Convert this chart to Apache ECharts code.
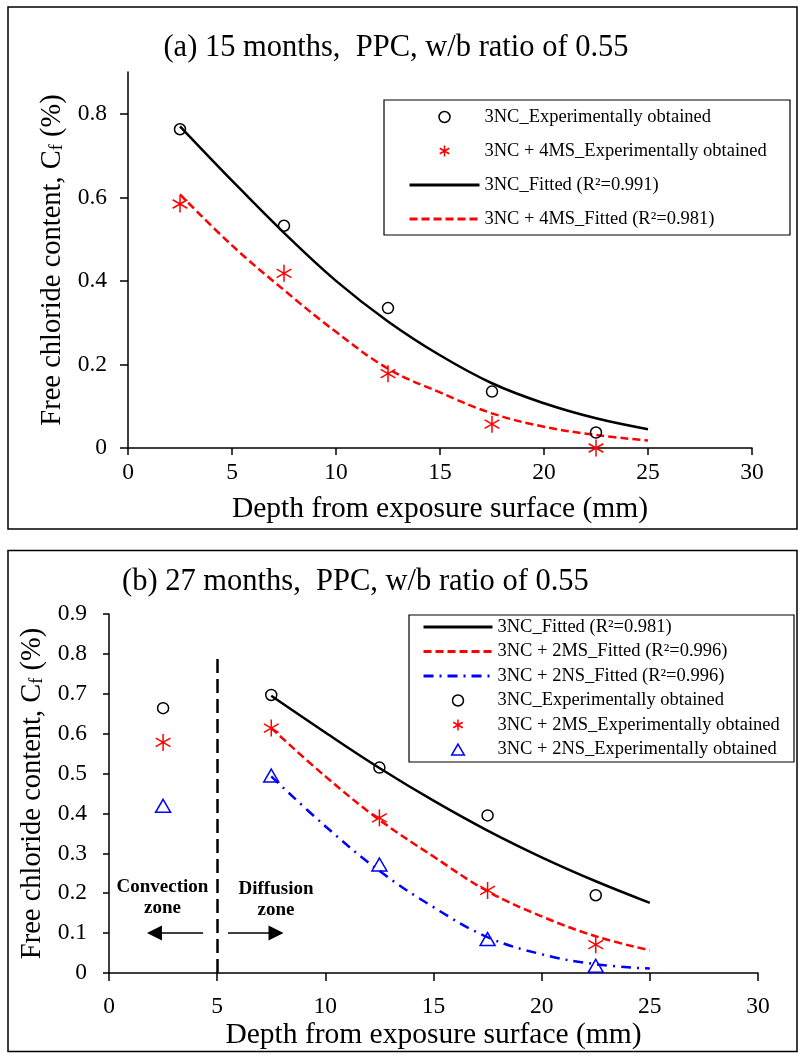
<!DOCTYPE html>
<html>
<head>
<meta charset="utf-8">
<script src="https://cdn.jsdelivr.net/npm/echarts@6/dist/echarts.min.js"></script>
<style>
  html, body { margin: 0; padding: 0; background: #fff; }
  #chart { width: 798px; height: 1055px; }
</style>
</head>
<body>
<div id="chart"></div>
<script>
// ---- data (a) 15 months ----
var aDepthExp = [2.5, 7.5, 12.5, 17.5, 22.5];
var aNcExp = [0.763, 0.532, 0.335, 0.135, 0.037];
var aMsExp = [0.584, 0.418, 0.178, 0.057, 0.0];
var aDepthFit = [2.5, 5, 7.5, 10, 12.5, 15, 17.5, 20, 22.5, 25];
var aNcFit = [0.77, 0.64, 0.515, 0.40, 0.303, 0.222, 0.155, 0.107, 0.071, 0.045];
var aMsFit = [0.607, 0.485, 0.378, 0.278, 0.19, 0.133, 0.083, 0.051, 0.031, 0.018];
var aYTicks = [0, 0.2, 0.4, 0.6, 0.8];

// ---- data (b) 27 months ----
var bDepthExp = [2.5, 7.5, 12.5, 17.5, 22.5];
var bNcExp = [0.664, 0.697, 0.515, 0.395, 0.195];
var bMsExp = [0.578, 0.614, 0.389, 0.207, 0.071];
var bNsExp = [0.419, 0.495, 0.272, 0.085, 0.018];
var bDepthFit = [7.5, 10, 12.5, 15, 17.5, 20, 22.5, 25];
var bNcFit = [0.695, 0.603, 0.514, 0.432, 0.357, 0.29, 0.23, 0.176];
var bMsFit = [0.614, 0.493, 0.384, 0.292, 0.205, 0.142, 0.092, 0.057];
var bNsFit = [0.493, 0.368, 0.256, 0.165, 0.09, 0.047, 0.022, 0.011];

var A_NC_EXP = '3NC_Experimentally obtained';
var A_MS_EXP = '3NC + 4MS_Experimentally obtained';
var A_NC_FIT = '3NC_Fitted (R²=0.991)';
var A_MS_FIT = '3NC + 4MS_Fitted (R²=0.981)';
var B_NC_FIT = '3NC_Fitted (R²=0.981)';
var B_MS_FIT = '3NC + 2MS_Fitted (R²=0.996)';
var B_NS_FIT = '3NC + 2NS_Fitted (R²=0.996)';
var B_NC_EXP = '3NC_Experimentally obtained';
var B_MS_EXP = '3NC + 2MS_Experimentally obtained';
var B_NS_EXP = '3NC + 2NS_Experimentally obtained';

var FONT = '"Liberation Serif", "Times New Roman", serif';
var STAR = 'path://M5,0 L5,10 M0.67,2.5 L9.33,7.5 M0.67,7.5 L9.33,2.5';
var TRI = 'path://M5,0 L10,8.66 L0,8.66 Z';
var CLEAR = 'rgba(0,0,0,0)';

function pairs(xs, ys) {
    return xs.map(function (x, i) { return [x, ys[i]]; });
}

function xAxis(idx, margin, tickLen) {
    return {
        type: 'value', gridIndex: idx, min: 0, max: 30, interval: 5,
        name: 'Depth from exposure surface (mm)', nameLocation: 'middle', nameGap: 46,
        nameTextStyle: { fontFamily: FONT, fontSize: 29.5, color: '#000' },
        axisLine: { onZero: false, lineStyle: { color: '#000', width: 1.5 } },
        axisTick: { length: tickLen, lineStyle: { color: '#000', width: 1.5 } },
        axisLabel: { margin: margin, fontFamily: FONT, fontSize: 23.5, color: '#000' },
        splitLine: { show: false }
    };
}

function yAxis(idx, extra) {
    var ax = {
        type: 'value', gridIndex: idx, min: 0, max: 0.9,
        name: 'Free chloride content, C{sub|f} (%)', nameLocation: 'middle', nameGap: 55,
        nameTextStyle: {
            fontFamily: FONT, fontSize: 28.5, color: '#000',
            rich: { sub: { fontFamily: FONT, fontSize: 18, color: '#000', verticalAlign: 'bottom', padding: [10, 0, 0, 0] } }
        },
        axisLine: { show: true, lineStyle: { color: '#000', width: 1.5 } },
        axisTick: { show: true, length: 7, lineStyle: { color: '#000', width: 1.5 } },
        axisLabel: { margin: 21, fontFamily: FONT, fontSize: 23.5, color: '#000' },
        splitLine: { show: false }
    };
    return echarts.util.merge(ax, extra, true);
}

function expSeries(name, grid, xs, ys, symbol, size, color) {
    return {
        name: name, type: 'scatter', xAxisIndex: grid, yAxisIndex: grid,
        data: pairs(xs, ys), symbol: symbol, symbolSize: size, symbolKeepAspect: true, z: 5,
        itemStyle: { color: CLEAR, borderColor: color, borderWidth: 1.5, opacity: 1 },
        emphasis: { disabled: true }
    };
}

function fitSeries(name, grid, xs, ys, color, type) {
    return {
        name: name, type: 'line', xAxisIndex: grid, yAxisIndex: grid,
        data: pairs(xs, ys), smooth: 0.4, symbol: 'none', z: 3,
        itemStyle: { color: color },
        lineStyle: { color: color, width: 2.5, type: type },
        emphasis: { disabled: true }
    };
}

var symItem = { borderWidth: 1.5 };
var lineItem = { color: CLEAR, borderWidth: 0 };

var legendText = { fontFamily: FONT, fontSize: 18.5, lineHeight: 20, color: '#000' };

var chart = echarts.init(document.getElementById('chart'), null, { renderer: 'canvas' });

var bNcExpSeries = expSeries(B_NC_EXP, 1, bDepthExp, bNcExp, 'circle', 11, '#000');
bNcExpSeries.markLine = {
    silent: true, animation: false,
    symbol: ['none', 'triangle'], symbolSize: [15, 15],
    label: { show: false },
    lineStyle: { color: '#000', width: 1.5, type: 'solid' },
    data: [
        [{ coord: [5, 0], symbol: 'none', lineStyle: { type: [14, 6], width: 2.5 } }, { coord: [5, 0.8], symbol: 'none' }],
        [{ coord: [4.35, 0.1] }, { coord: [2.1, 0.1] }],
        [{ coord: [5.5, 0.1] }, { coord: [7.72, 0.1] }]
    ]
};
bNcExpSeries.markPoint = {
    silent: true, animation: false,
    symbol: 'rect', symbolSize: 1, itemStyle: { color: CLEAR },
    label: { show: true, position: 'inside', fontFamily: FONT, fontSize: 19, fontWeight: 'bold', color: '#000', lineHeight: 20.5 },
    data: [
        { name: 'conv', coord: [2.47, 0.189], label: { formatter: 'Convection\nzone' } },
        { name: 'diff', coord: [7.72, 0.184], label: { formatter: 'Diffusion\nzone' } }
    ]
};

chart.setOption({
    animation: false,
    backgroundColor: '#fff',
    title: [
        { text: '(a) 15 months,  PPC, w/b ratio of 0.55', left: 396, top: 32, textAlign: 'center', padding: 0,
          textStyle: { fontFamily: FONT, fontSize: 30.5, fontWeight: 'normal', color: '#000' } },
        { text: '(b) 27 months,  PPC, w/b ratio of 0.55', left: 122, top: 566, padding: 0,
          textStyle: { fontFamily: FONT, fontSize: 30.5, fontWeight: 'normal', color: '#000' } }
    ],
    graphic: [
        { type: 'rect', shape: { x: 8, y: 7, width: 789, height: 522 }, style: { fill: 'none', stroke: '#000', lineWidth: 1.5 }, silent: true, z: -1 },
        { type: 'rect', shape: { x: 8, y: 550.5, width: 789, height: 501 }, style: { fill: 'none', stroke: '#000', lineWidth: 1.5 }, silent: true, z: -1 },
        { type: 'rect', shape: { x: 384, y: 100, width: 406, height: 135 }, style: { fill: '#fff', stroke: '#000', lineWidth: 1.2 }, silent: true, z: 1 },
        { type: 'rect', shape: { x: 409, y: 615, width: 385, height: 147 }, style: { fill: '#fff', stroke: '#000', lineWidth: 1.2 }, silent: true, z: 1 }
    ],
    legend: [
        {
            orient: 'vertical', left: 408, top: 107, padding: 0, itemGap: 14,
            itemWidth: 70, itemHeight: 11, selectedMode: false, z: 10, symbolKeepAspect: true,
            textStyle: legendText,
            lineStyle: { width: 3 },
            data: [
                { name: A_NC_EXP, itemStyle: symItem },
                { name: A_MS_EXP, itemStyle: symItem },
                { name: A_NC_FIT, itemStyle: lineItem },
                { name: A_MS_FIT, itemStyle: lineItem }
            ]
        },
        {
            orient: 'vertical', left: 422, top: 617, padding: 0, itemGap: 4.5,
            itemWidth: 69, itemHeight: 11, selectedMode: false, z: 10, symbolKeepAspect: true,
            textStyle: legendText,
            lineStyle: { width: 3 },
            data: [
                { name: B_NC_FIT, itemStyle: lineItem },
                { name: B_MS_FIT, itemStyle: lineItem },
                { name: B_NS_FIT, itemStyle: lineItem },
                { name: B_NC_EXP, itemStyle: symItem },
                { name: B_MS_EXP, itemStyle: symItem },
                { name: B_NS_EXP, icon: TRI, itemStyle: symItem }
            ]
        }
    ],
    grid: [
        { left: 128, top: 72, width: 624, height: 376 },
        { left: 109, top: 614, width: 649, height: 359 }
    ],
    xAxis: [xAxis(0, 13, 7), xAxis(1, 22, 8)],
    yAxis: [
        yAxis(0, { axisLabel: { customValues: aYTicks }, axisTick: { customValues: aYTicks, length: 8 } }),
        yAxis(1, { interval: 0.1, axisTick: { length: 6 }, axisLabel: { margin: 22 } })
    ],
    series: [
        expSeries(A_NC_EXP, 0, aDepthExp, aNcExp, 'circle', 11, '#000'),
        expSeries(A_MS_EXP, 0, aDepthExp, aMsExp, STAR, 17, '#f00'),
        fitSeries(A_NC_FIT, 0, aDepthFit, aNcFit, '#000', 'solid'),
        fitSeries(A_MS_FIT, 0, aDepthFit, aMsFit, '#f00', [8, 4]),
        fitSeries(B_NC_FIT, 1, bDepthFit, bNcFit, '#000', 'solid'),
        fitSeries(B_MS_FIT, 1, bDepthFit, bMsFit, '#f00', [8, 4]),
        fitSeries(B_NS_FIT, 1, bDepthFit, bNsFit, '#00f', [10, 6, 2, 6]),
        bNcExpSeries,
        expSeries(B_MS_EXP, 1, bDepthExp, bMsExp, STAR, 17, '#f00'),
        expSeries(B_NS_EXP, 1, bDepthExp, bNsExp, TRI, 15, '#00f')
    ]
});
</script>
</body>
</html>
